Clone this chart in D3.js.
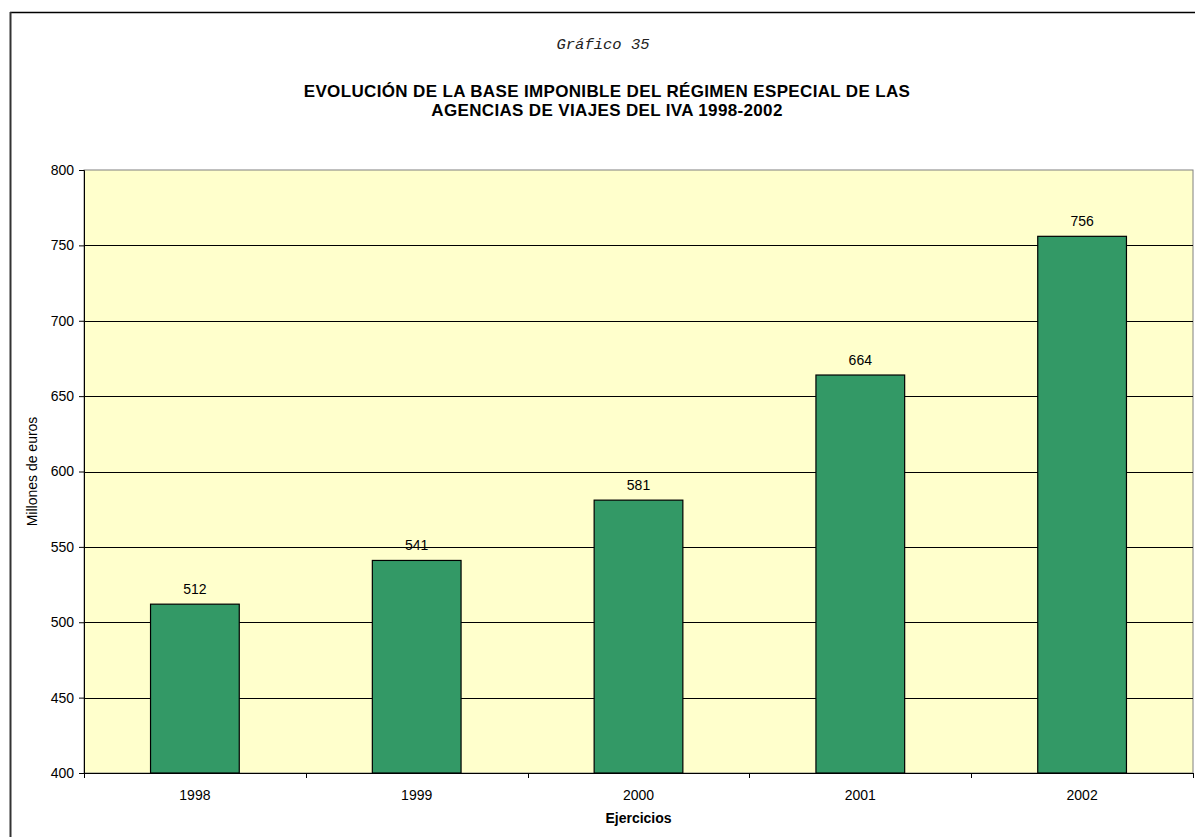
<!DOCTYPE html>
<html><head><meta charset="utf-8">
<script src="https://cdn.jsdelivr.net/npm/d3@7"></script>
<style>body{margin:0;background:#fff}svg{display:block}text{font-family:"Liberation Sans",Arial,sans-serif}</style>
</head><body>
<svg id="c" width="1195" height="837"></svg>
<script>
const categories = ["1998","1999","2000","2001","2002"];
const values = [512, 541, 581, 664, 756];
const yTicks = [400,450,500,550,600,650,700,750,800];

const svg = d3.select("#c");
const m = {left:84, top:170, right:1193, bottom:773};
const F = "Liberation Sans, Arial, sans-serif";

// outer frame
svg.append("line").attr("x1",10).attr("x2",1195).attr("y1",12.5).attr("y2",12.5).attr("stroke","#000").attr("stroke-width",1.5);
svg.append("line").attr("x1",10.5).attr("x2",10.5).attr("y1",12).attr("y2",837).attr("stroke","#333").attr("stroke-width",2);

const x = d3.scaleBand().domain(categories).range([m.left, m.right]).paddingInner(0.6).paddingOuter(0.3);
const xb = d3.scaleBand().domain(categories).range([m.left, m.right]);
const y = d3.scaleLinear().domain([400,800]).range([m.bottom, m.top]);

svg.append("rect").attr("x",m.left).attr("y",m.top).attr("width",m.right-m.left).attr("height",m.bottom-m.top)
  .attr("fill","#FFFFCC").attr("stroke","#808080").attr("stroke-width",1);

// gridlines
svg.append("g").selectAll("line").data(yTicks.filter(d=>d>400 && d<800)).join("line")
  .attr("x1",m.left).attr("x2",m.right).attr("y1",d=>Math.round(y(d))+0.5).attr("y2",d=>Math.round(y(d))+0.5)
  .attr("stroke","#000").attr("stroke-width",1);

// bars
svg.append("g").selectAll("rect").data(values).join("rect")
  .attr("x",(d,i)=>x(categories[i])).attr("width",x.bandwidth())
  .attr("y",d=>y(d)).attr("height",d=>m.bottom-y(d))
  .attr("fill","#339966").attr("stroke","#000").attr("stroke-width",1.2);

// value labels
svg.append("g").selectAll("text").data(values).join("text")
  .attr("x",(d,i)=>x(categories[i])+x.bandwidth()/2).attr("y",d=>y(d)-10)
  .attr("text-anchor","middle").attr("font-size",14).attr("fill","#000").text(d=>d);

// y axis
const ya = svg.append("g").attr("transform",`translate(${m.left},0)`)
  .call(d3.axisLeft(y).tickValues(yTicks).tickSize(5).tickPadding(5));
ya.select(".domain").attr("stroke","#000");
ya.selectAll("text").attr("font-size",14).attr("font-family",F).attr("fill","#000");

// x axis
const xa = svg.append("g").attr("transform",`translate(0,${m.bottom})`)
  .call(d3.axisBottom(xb).tickSize(0).tickPadding(17));
xa.select(".domain").remove();
xa.selectAll("text").attr("font-size",14).attr("font-family",F).attr("fill","#000");
svg.append("line").attr("x1",m.left).attr("x2",m.right).attr("y1",m.bottom+0.5).attr("y2",m.bottom+0.5).attr("stroke","#000");
svg.append("g").selectAll("line").data(d3.range(categories.length+1)).join("line")
  .attr("x1",i=>Math.round(m.left+i*xb.step())+0.5).attr("x2",i=>Math.round(m.left+i*xb.step())+0.5)
  .attr("y1",m.bottom).attr("y2",m.bottom+5).attr("stroke","#000");

// titles
svg.append("text").attr("x",603).attr("y",49).attr("text-anchor","middle")
  .attr("font-size",15.5).attr("font-style","italic").style("font-family","'Liberation Mono','DejaVu Sans Mono',monospace").attr("fill","#222").text("Gráfico 35");
svg.append("text").attr("x",607).attr("y",97).attr("text-anchor","middle").attr("font-size",17).attr("letter-spacing","0.35px").attr("font-weight","bold").text("EVOLUCIÓN DE LA BASE IMPONIBLE DEL RÉGIMEN ESPECIAL DE LAS");
svg.append("text").attr("x",607).attr("y",116).attr("text-anchor","middle").attr("font-size",17).attr("letter-spacing","0.35px").attr("font-weight","bold").text("AGENCIAS DE VIAJES DEL IVA 1998-2002");

svg.append("text").attr("transform",`translate(37,${(m.top+m.bottom)/2}) rotate(-90)`).attr("text-anchor","middle")
  .attr("font-size",14).text("Millones de euros");
svg.append("text").attr("x",(m.left+m.right)/2).attr("y",823).attr("text-anchor","middle").attr("font-size",14).attr("font-weight","bold").text("Ejercicios");
</script>
</body></html>
